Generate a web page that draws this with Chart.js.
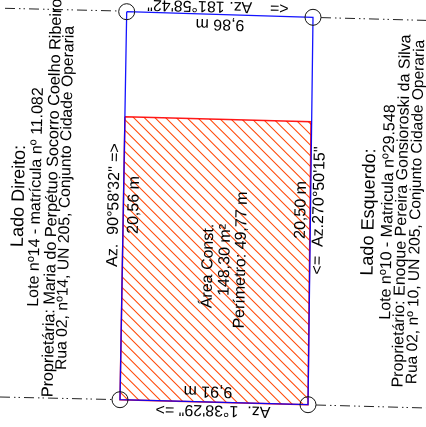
<!DOCTYPE html>
<html>
<head>
<meta charset="utf-8">
<style>
  html, body { margin: 0; padding: 0; background: #fff; }
  canvas { display: block; }
</style>
<script src="https://cdn.jsdelivr.net/npm/chart.js@4"></script>
</head>
<body>
<canvas id="planta" width="426" height="427"></canvas>
<script>
// lot corners, clockwise from top left (drawing units = px of the plan)
const lotX = [126.7, 313, 308, 120, 126.7];
const lotY = [11.7, 17.3, 404.7, 399.7, 11.7];

// built area
const buildX = [125, 311, 308, 120, 125];
const buildY = [116.7, 121.7, 404.7, 399.7, 116.7];

// neighbour boundary lines
const axisTopLeftX = [5, 119];
const axisTopLeftY = [8.3, 11];
const axisTopRightX = [321, 426];
const axisTopRightY = [17.6, 20.4];
const axisBottomLeftX = [0, 112];
const axisBottomLeftY = [397, 399.5];
const axisBottomRightX = [316, 426];
const axisBottomRightY = [405, 408];

const labels = [
  { t: 'Lado Direito:', x: 19, y: 196, a: -88.7, s: 18 },
  { t: 'Lote nº14 - matrícula nº 11.082', x: 36, y: 197, a: -88.7, s: 16 },
  { t: 'Proprietária: Maria do Perpétuo Socorro Coelho Ribeiro', x: 52.5, y: 198, a: -88.7, s: 16.2 },
  { t: 'Rua 02, nº14, UN 205, Conjunto Cidade Operaria', x: 65.5, y: 198, a: -88.7, s: 15.7 },
  { t: 'Lado Esquerdo:', x: 369, y: 212, a: -88.7, s: 18 },
  { t: 'Lote nº10 - Matricula nº29.548', x: 388, y: 212, a: -88.7, s: 16 },
  { t: 'Proprietário: Enoque Pereira Gonsioroski da Silva', x: 402, y: 211, a: -88.7, s: 16 },
  { t: 'Rua 02, nº 10, UN 205, Conjunto Cidade Operaria', x: 416, y: 212, a: -88.7, s: 15.5 },
  { t: 'Área Const.', x: 208, y: 266, a: -88.7, s: 16 },
  { t: '148,30 m²', x: 225, y: 260, a: -88.7, s: 16 },
  { t: 'Perímetro: 49,77 m', x: 241, y: 260, a: -88.7, s: 16 },
  { t: 'Az.  90°58\'32" =>', x: 114, y: 205, a: -88.7, s: 16 },
  { t: '20,56 m', x: 134, y: 205, a: -88.7, s: 16 },
  { t: '20,50 m', x: 301, y: 210, a: -88.7, s: 16 },
  { t: '<=  Az.270°50\'15"', x: 319, y: 210.5, a: -88.7, s: 16 },
  { t: '<=    Az. 181°58\'42"', x: 218, y: 6, a: 181.3, s: 16 },
  { t: '9,86 m', x: 220, y: 24, a: 181.3, s: 16 },
  { t: '9,91 m', x: 208, y: 391, a: 181.3, s: 16 },
  { t: 'Az.  1°38\'29" =>', x: 213, y: 410, a: 181.3, s: 16 }
];

function toPoints(xs, ys) {
  return xs.map(function (x, i) { return { x: x, y: ys[i] }; });
}

// diagonal hatch for the built area, 3 lines per 32px tile
function hatch() {
  const c = document.createElement('canvas');
  c.width = 32;
  c.height = 32;
  const g = c.getContext('2d');
  g.strokeStyle = '#ff4a0a';
  g.lineWidth = 1.05;
  g.beginPath();
  for (let k = -3; k <= 3; k++) {
    const off = 5.33 + k * 10.667;
    g.moveTo(off - 2, -2);
    g.lineTo(off + 34, 34);
  }
  g.stroke();
  return g.createPattern(c, 'repeat');
}

const dashDot = [10, 4, 1.5, 3, 1.5, 4];

function axisLine(xs, ys) {
  return {
    data: toPoints(xs, ys),
    showLine: true,
    borderColor: '#222',
    borderWidth: 1,
    borderDash: dashDot,
    pointRadius: 0
  };
}

const textPlugin = {
  id: 'planText',
  afterDatasetsDraw(chart) {
    const ctx = chart.ctx;
    labels.forEach(function (l) {
      ctx.save();
      ctx.translate(chart.scales.x.getPixelForValue(l.x), chart.scales.y.getPixelForValue(l.y));
      ctx.rotate(l.a * Math.PI / 180);
      ctx.font = l.s + 'px "Liberation Sans"';
      ctx.fillStyle = '#000';
      ctx.textAlign = 'center';
      ctx.textBaseline = 'middle';
      ctx.fillText(l.t, 0, 0);
      ctx.restore();
    });
  }
};

new Chart(document.getElementById('planta').getContext('2d'), {
  type: 'scatter',
  data: {
    datasets: [
      {
        data: toPoints(lotX.slice(0, 4), lotY.slice(0, 4)),
        pointRadius: 8,
        pointBackgroundColor: 'rgba(0,0,0,0)',
        pointBorderColor: '#111',
        pointBorderWidth: 1,
        showLine: false,
        order: 1
      },
      {
        data: toPoints(lotX, lotY),
        showLine: true,
        borderColor: 'rgba(0,0,255,0.92)',
        borderWidth: 1.3,
        pointRadius: 0,
        order: 2
      },
      {
        data: toPoints(buildX, buildY),
        showLine: true,
        fill: 'shape',
        backgroundColor: hatch(),
        borderColor: 'rgba(255,0,0,0.9)',
        borderWidth: 1.5,
        pointRadius: 0,
        order: 3
      },
      axisLine(axisTopLeftX, axisTopLeftY),
      axisLine(axisTopRightX, axisTopRightY),
      axisLine(axisBottomLeftX, axisBottomLeftY),
      axisLine(axisBottomRightX, axisBottomRightY)
    ]
  },
  options: {
    responsive: false,
    animation: false,
    layout: { padding: 0, autoPadding: false },
    plugins: { legend: { display: false }, tooltip: { enabled: false }, title: { display: false } },
    scales: {
      x: { type: 'linear', min: 0, max: 426, display: false },
      y: { type: 'linear', min: 0, max: 427, reverse: true, display: false }
    }
  },
  plugins: [textPlugin]
});
</script>
</body>
</html>
